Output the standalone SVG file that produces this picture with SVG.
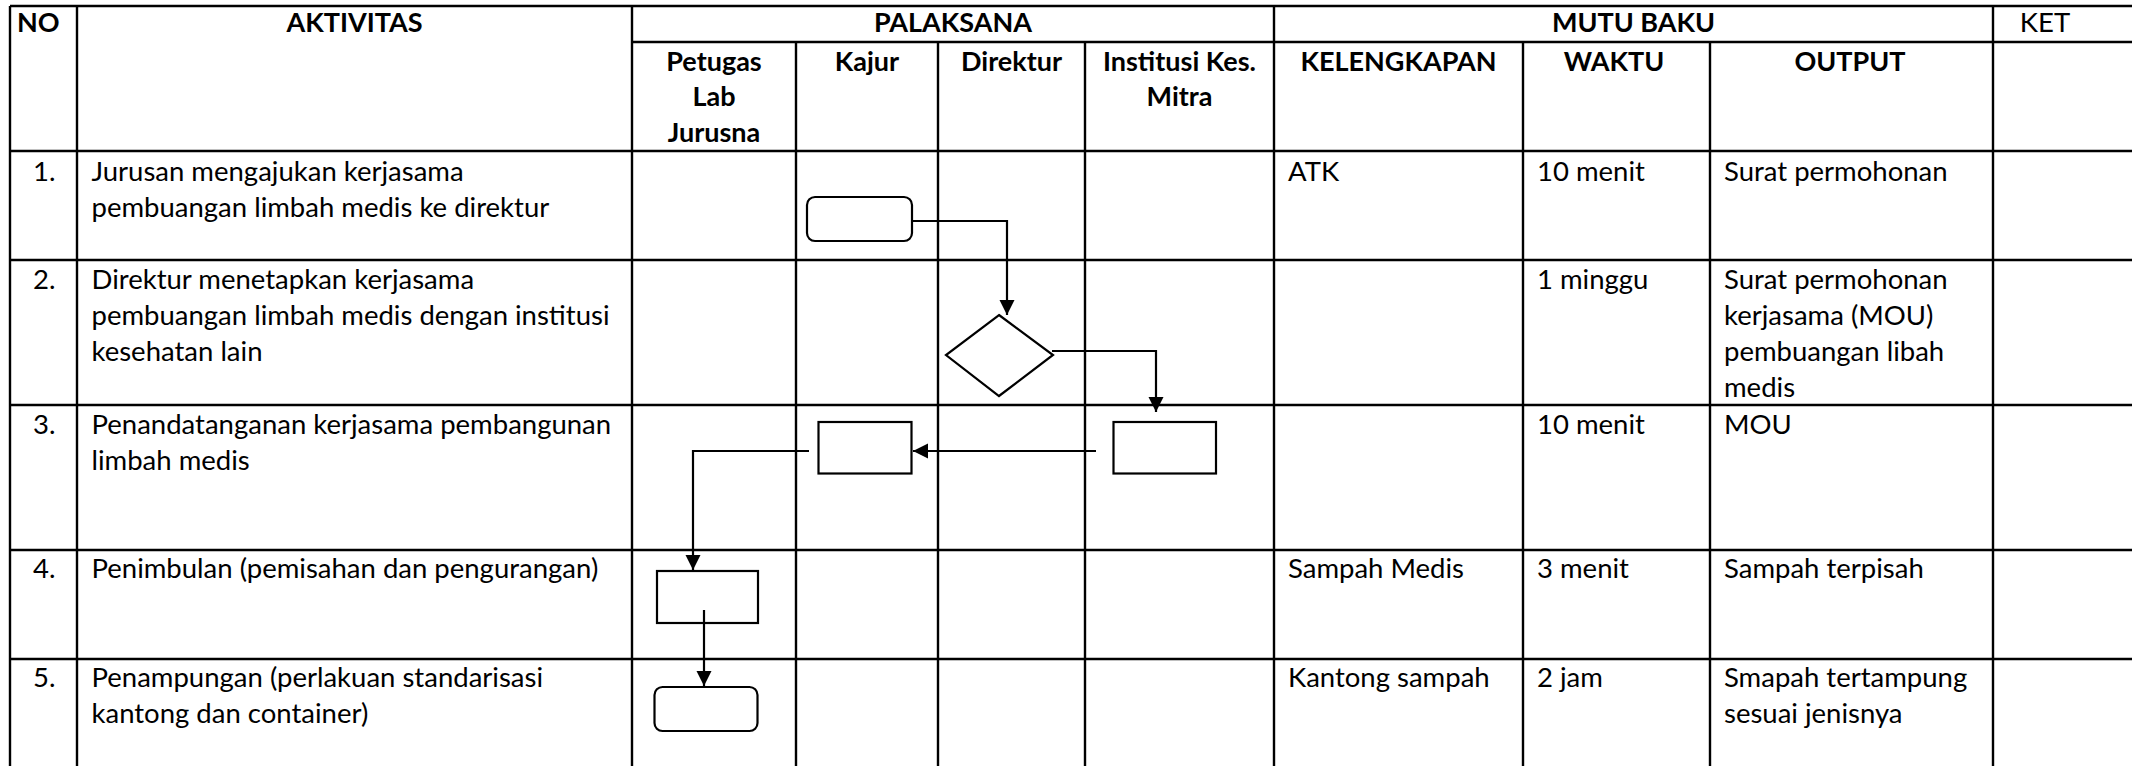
<svg xmlns="http://www.w3.org/2000/svg" width="2132" height="766" viewBox="0 0 2132 766">
<style>
  .grid line { stroke: #000; stroke-width: 2.4; }
  .t { font-family: Lato, "Liberation Sans", sans-serif; font-size: 27.5px; fill: #000; }
  .h { font-family: Lato, "Liberation Sans", sans-serif; font-size: 27px; font-weight: bold; fill: #000; }
  .c { text-anchor: middle; }
  .shape { fill: #fff; stroke: #000; stroke-width: 2.2; }
  .conn { fill: none; stroke: #000; stroke-width: 2.2; }
</style>
<defs>
  <marker id="arrow" markerUnits="userSpaceOnUse" markerWidth="16" markerHeight="16" refX="15" refY="7.5" orient="auto">
    <path d="M0,0 L15,7.5 L0,15 z" fill="#000"/>
  </marker>
</defs>
<rect x="0" y="0" width="2132" height="766" fill="#fff"/>
<g id="table-grid" class="grid">
  <line x1="10" y1="6" x2="2132" y2="6"/>
  <line x1="632" y1="42" x2="2132" y2="42"/>
  <line x1="10" y1="151" x2="2132" y2="151"/>
  <line x1="10" y1="260" x2="2132" y2="260"/>
  <line x1="10" y1="405" x2="2132" y2="405"/>
  <line x1="10" y1="550" x2="2132" y2="550"/>
  <line x1="10" y1="659" x2="2132" y2="659"/>
  <line x1="10" y1="6" x2="10" y2="766"/>
  <line x1="77" y1="6" x2="77" y2="766"/>
  <line x1="632" y1="6" x2="632" y2="766"/>
  <line x1="796" y1="42" x2="796" y2="766"/>
  <line x1="938" y1="42" x2="938" y2="766"/>
  <line x1="1085" y1="42" x2="1085" y2="766"/>
  <line x1="1274" y1="6" x2="1274" y2="766"/>
  <line x1="1523" y1="42" x2="1523" y2="766"/>
  <line x1="1710" y1="42" x2="1710" y2="766"/>
  <line x1="1993" y1="6" x2="1993" y2="766"/>
</g>
<g id="header">
  <text class="h" x="17" y="32">NO</text>
  <text class="h c" x="354.5" y="32">AKTIVITAS</text>
  <text class="h c" x="953" y="32">PALAKSANA</text>
  <text class="h c" x="1633.5" y="32">MUTU BAKU</text>
  <text class="t c" x="2045" y="32">KET</text>
  <text class="h c" x="714" y="71">Petugas</text>
  <text class="h c" x="714" y="106">Lab</text>
  <text class="h c" x="714" y="142">Jurusna</text>
  <text class="h c" x="867" y="71">Kajur</text>
  <text class="h c" x="1011.5" y="71">Direktur</text>
  <text class="h c" x="1179.5" y="71">Institusi Kes.</text>
  <text class="h c" x="1179.5" y="106">Mitra</text>
  <text class="h c" x="1398.5" y="71">KELENGKAPAN</text>
  <text class="h c" x="1614" y="71">WAKTU</text>
  <text class="h c" x="1850" y="71">OUTPUT</text>
</g>
<g id="row1">
  <text class="t" x="33" y="181">1.</text>
  <text class="t" x="91.5" y="181">Jurusan mengajukan kerjasama</text>
  <text class="t" x="91.5" y="217">pembuangan limbah medis ke direktur</text>
  <text class="t" x="1288" y="181">ATK</text>
  <text class="t" x="1537" y="181">10 menit</text>
  <text class="t" x="1724" y="181">Surat permohonan</text>
</g>
<g id="row2">
  <text class="t" x="33" y="289">2.</text>
  <text class="t" x="91.5" y="289">Direktur menetapkan kerjasama</text>
  <text class="t" x="91.5" y="325">pembuangan limbah medis dengan institusi</text>
  <text class="t" x="91.5" y="361">kesehatan lain</text>
  <text class="t" x="1537" y="289">1 minggu</text>
  <text class="t" x="1724" y="289">Surat permohonan</text>
  <text class="t" x="1724" y="325">kerjasama (MOU)</text>
  <text class="t" x="1724" y="361">pembuangan libah</text>
  <text class="t" x="1724" y="397">medis</text>
</g>
<g id="row3">
  <text class="t" x="33" y="434">3.</text>
  <text class="t" x="91.5" y="434">Penandatanganan kerjasama pembangunan</text>
  <text class="t" x="91.5" y="470">limbah medis</text>
  <text class="t" x="1537" y="434">10 menit</text>
  <text class="t" x="1724" y="434">MOU</text>
</g>
<g id="row4">
  <text class="t" x="33" y="578">4.</text>
  <text class="t" x="91.5" y="578">Penimbulan (pemisahan dan pengurangan)</text>
  <text class="t" x="1288" y="578">Sampah Medis</text>
  <text class="t" x="1537" y="578">3 menit</text>
  <text class="t" x="1724" y="578">Sampah terpisah</text>
</g>
<g id="row5">
  <text class="t" x="33" y="687">5.</text>
  <text class="t" x="91.5" y="687">Penampungan (perlakuan standarisasi</text>
  <text class="t" x="91.5" y="723">kantong dan container)</text>
  <text class="t" x="1288" y="687">Kantong sampah</text>
  <text class="t" x="1537" y="687">2 jam</text>
  <text class="t" x="1724" y="687">Smapah tertampung</text>
  <text class="t" x="1724" y="723">sesuai jenisnya</text>
</g>
<g id="node-start-kajur"><rect class="shape" x="807" y="197" width="105" height="44" rx="8"/></g>
<g id="node-decision-direktur"><polygon class="shape" points="999,315 1053,355 999,396 946,355"/></g>
<g id="node-mitra-sign"><rect class="shape" x="1113.5" y="422" width="102.5" height="51.5"/></g>
<g id="node-kajur-sign"><rect class="shape" x="818.5" y="422" width="93" height="51.5"/></g>
<g id="node-penimbulan"><rect class="shape" x="657" y="571" width="101" height="52"/></g>
<g id="node-penampungan"><rect class="shape" x="654.5" y="687" width="103" height="44" rx="8"/></g>
<g id="connectors">
  <path class="conn" d="M912,221 H1007 V315" marker-end="url(#arrow)"/>
  <path class="conn" d="M1052,351 H1156 V412" marker-end="url(#arrow)"/>
  <path class="conn" d="M1096,451 H913" marker-end="url(#arrow)"/>
  <path class="conn" d="M809,451 H693 V570" marker-end="url(#arrow)"/>
  <path class="conn" d="M704,610 V686" marker-end="url(#arrow)"/>
</g>
</svg>
